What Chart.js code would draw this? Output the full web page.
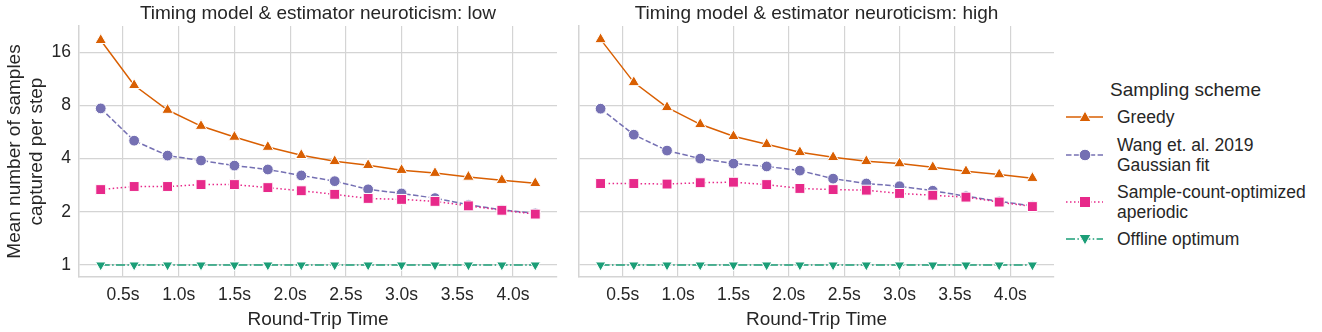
<!DOCTYPE html>
<html>
<head>
<meta charset="utf-8">
<script src="https://cdn.jsdelivr.net/npm/chart.js@4"></script>
<style>
  body { margin: 0; background: white; font-family: "Liberation Sans", Arial, sans-serif; color: #262626; }
  #wrap { position: relative; width: 1322px; height: 332px; }
  canvas { position: absolute; top: 0; }
  #left { left: 0; }
  #right { left: 565px; }
  #legend { position: absolute; left: 1066px; top: 78px; font-size: 17.5px; }
  .ttl { position: absolute; left: 44px; top: 0; font-size: 19px; white-space: nowrap; line-height: 24px; }
  .item { position: absolute; left: 0; white-space: nowrap; }
  .item svg { position: absolute; left: 0; }
  .item span { position: absolute; left: 51px; line-height: 19.5px; }
</style>
</head>
<body>
<div id="wrap">
  <canvas id="left" width="565" height="332"></canvas>
  <canvas id="right" width="497" height="332"></canvas>
  <div id="legend"></div>
</div>
<script>
// round-trip time in seconds
const rtt = [0.3, 0.6, 0.9, 1.2, 1.5, 1.8, 2.1, 2.4, 2.7, 3.0, 3.3, 3.6, 3.9, 4.2]
const xTicks = [0.5, 1.0, 1.5, 2.0, 2.5, 3.0, 3.5, 4.0]
const yTicks = [1, 2, 4, 8, 16]

// neuroticism: low
const greedyLow = [18.7, 10.4, 7.53, 6.11, 5.30, 4.65, 4.18, 3.86, 3.67, 3.44, 3.31, 3.15, 3.02, 2.90]
const wangLow = [7.69, 5.05, 4.16, 3.90, 3.65, 3.47, 3.21, 2.98, 2.68, 2.54, 2.39, 2.19, 2.05, 1.96]
const sampleLow = [2.67, 2.78, 2.78, 2.85, 2.85, 2.74, 2.63, 2.51, 2.38, 2.35, 2.29, 2.16, 2.04, 1.94]
const offlineLow = [1, 1, 1, 1, 1, 1, 1, 1, 1, 1, 1, 1, 1, 1]

// neuroticism: high
const greedyHigh = [18.9, 10.8, 7.80, 6.25, 5.35, 4.82, 4.34, 4.07, 3.86, 3.75, 3.57, 3.39, 3.25, 3.10]
const wangHigh = [7.66, 5.46, 4.44, 4.00, 3.75, 3.61, 3.42, 3.08, 2.89, 2.79, 2.63, 2.45, 2.29, 2.16]
const sampleHigh = [2.89, 2.89, 2.87, 2.92, 2.94, 2.85, 2.71, 2.67, 2.65, 2.54, 2.48, 2.42, 2.27, 2.14]
const offlineHigh = [1, 1, 1, 1, 1, 1, 1, 1, 1, 1, 1, 1, 1, 1]

const seriesNames = ['Greedy', 'Wang et. al. 2019\nGaussian fit', 'Sample-count-optimized\naperiodic', 'Offline optimum']
const colors = ['#d95f02', '#7570b3', '#e7298a', '#1b9e77']

const font = '"Liberation Sans", Arial, sans-serif'
const textColor = '#262626'
const gridColor = '#d4d4d4'

const styles = [
    { pointStyle: 'triangle', pointRadius: 6.6, rotation: 0, dash: [] },
    { pointStyle: 'circle', pointRadius: 5.4, rotation: 0, dash: [5.5, 2.4] },
    { pointStyle: 'rect', pointRadius: 7, rotation: 0, dash: [1.5, 2.5] },
    { pointStyle: 'triangle', pointRadius: 6, rotation: 180, dash: [9, 2.4, 1.5, 2.4] }
]

function makeDatasets(lists) {
    return lists.map((vals, i) => {
        return {
            label: seriesNames[i],
            data: vals.map((v, j) => ({ x: rtt[j], y: v })),
            borderColor: colors[i],
            backgroundColor: colors[i],
            borderWidth: 1.5,
            borderDash: styles[i].dash,
            pointStyle: styles[i].pointStyle,
            pointRadius: styles[i].pointRadius,
            pointRotation: styles[i].rotation,
            pointBorderColor: 'white',
            pointBorderWidth: 1,
            pointBackgroundColor: colors[i],
            order: 3 - i,
            tension: 0
        }
    })
}

function makeChart(canvas, title, lists, isLeft) {
    const config = {
        type: 'line',
        data: { datasets: makeDatasets(lists) },
        options: {
            responsive: false,
            animation: false,
            layout: { padding: { left: 0, right: isLeft ? 8 : 5, top: 0, bottom: 0 } },
            plugins: {
                legend: { display: false },
                tooltip: { enabled: false },
                title: {
                    display: true,
                    text: title,
                    fullSize: false,
                    color: textColor,
                    font: { family: font, size: 19, weight: 'normal', lineHeight: 1.2 },
                    padding: { top: 2, bottom: 1.2 }
                }
            },
            scales: {
                x: {
                    type: 'linear',
                    min: 0.105,
                    max: 4.395,
                    afterBuildTicks: (axis) => { axis.ticks = xTicks.map(v => ({ value: v })) },
                    afterFit: (axis) => { axis.height = 55 },
                    ticks: {
                        color: textColor,
                        font: { family: font, size: 17.5 },
                        padding: 8,
                        maxRotation: 0,
                        callback: (v) => v.toFixed(1) + 's'
                    },
                    grid: { color: gridColor, lineWidth: 1.2, drawTicks: false },
                    border: { display: true, color: gridColor, width: 1.5 },
                    title: {
                        display: true,
                        text: 'Round-Trip Time',
                        color: textColor,
                        font: { family: font, size: 19 },
                        padding: { top: 0, bottom: 1 }
                    }
                },
                y: {
                    type: 'logarithmic',
                    min: 0.855,
                    max: 22.5,
                    afterBuildTicks: (axis) => { axis.ticks = yTicks.map(v => ({ value: v })) },
                    afterFit: (axis) => { axis.width = isLeft ? 79 : 14 },
                    ticks: {
                        display: isLeft,
                        color: textColor,
                        font: { family: font, size: 17.5 },
                        padding: 8,
                        callback: (v) => String(v)
                    },
                    grid: { color: gridColor, lineWidth: 1.2, drawTicks: false },
                    border: { display: true, color: gridColor, width: 1.5 },
                    title: {
                        display: isLeft,
                        text: ['Mean number of samples', 'captured per step'],
                        color: textColor,
                        font: { family: font, size: 19, lineHeight: 1.2 },
                        padding: { top: 3, bottom: 0 }
                    }
                }
            }
        }
    }
    return new Chart(canvas, config)
}

makeChart(document.querySelector('#left'), 'Timing model & estimator neuroticism: low',
    [greedyLow, wangLow, sampleLow, offlineLow], true)
makeChart(document.querySelector('#right'), 'Timing model & estimator neuroticism: high',
    [greedyHigh, wangHigh, sampleHigh, offlineHigh], false)

// legend, built by hand like the seaborn one
function markerSvg(i) {
    const c = colors[i]
    let shape = ''
    if (i === 0) shape = `<polygon points="19,2 25,12.5 13,12.5" fill="${c}" stroke="white" stroke-width="1"/>`
    if (i === 1) shape = `<circle cx="19" cy="8" r="5.8" fill="${c}" stroke="white" stroke-width="1"/>`
    if (i === 2) shape = `<rect x="13.5" y="2.5" width="11" height="11" fill="${c}" stroke="white" stroke-width="1"/>`
    if (i === 3) shape = `<polygon points="13,3.5 25,3.5 19,14" fill="${c}" stroke="white" stroke-width="1"/>`
    const dash = styles[i].dash.length ? `stroke-dasharray="${styles[i].dash.join(',')}"` : ''
    return `<svg width="38" height="16"><line x1="0" y1="8" x2="37" y2="8" stroke="${c}" stroke-width="1.5" ${dash}/>${shape}</svg>`
}

const legendTops = [30, 58, 105, 152]
const markerOffsets = [-0.5, 10, 10, 0]
const legend = document.querySelector('#legend')
let html = '<div class="ttl">Sampling scheme</div>'
seriesNames.forEach((name, i) => {
    const lines = name.split('\n').join('<br>')
    html += `<div class="item" style="top:${legendTops[i]}px">` +
        `<span style="top:0">${lines}</span>` +
        `</div>`
    html += `<div class="item" style="top:${legendTops[i] + markerOffsets[i] + 1}px">${markerSvg(i)}</div>`
})
legend.innerHTML = html
</script>
</body>
</html>
